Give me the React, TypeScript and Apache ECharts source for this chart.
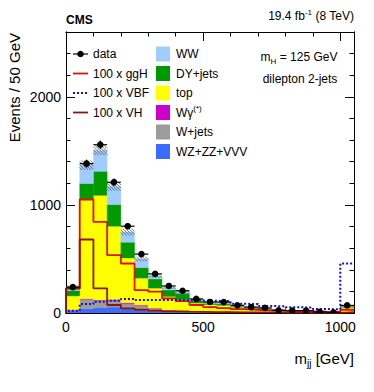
import React, { useEffect, useRef } from "react";
import * as echarts from "echarts";

const FONT = "'Liberation Sans', Arial, Helvetica, sans-serif";

// bin lower edges (GeV), bin width 50 GeV; last bin includes overflow
const binLow = [0, 50, 100, 150, 200, 250, 300, 350, 400, 450, 500, 550, 600, 650, 700, 750, 800, 850, 900, 950, 1000];
const binWidth = 50;

const dataCounts = [240, 1382, 1557, 1210, 803, 545, 362, 250, 206, 130, 102, 101, 71, 55, 47, 25, 22, 22, 10, 5, 70];

// stacked backgrounds, bottom to top
const wzZzVvv = [20, 40, 50, 55, 40, 25, 20, 10, 10, 8, 5, 5, 4, 3, 3, 2, 2, 2, 1, 1, 4];
const wJets = [5, 86, 65, 60, 45, 40, 20, 15, 10, 7, 5, 5, 3, 3, 2, 2, 1, 1, 1, 1, 3];
const wGamma = [3, 5, 5, 10, 10, 8, 5, 3, 3, 2, 2, 1, 1, 1, 1, 0, 0, 0, 0, 0, 1];
const topBkg = [130, 920, 969, 678, 415, 250, 185, 125, 100, 75, 65, 60, 45, 35, 28, 18, 15, 13, 9, 7, 45];
const dyJets = [50, 147, 222, 200, 145, 97, 85, 60, 60, 20, 13, 14, 10, 7, 6, 4, 4, 3, 2, 2, 10];
const wwBkg = [35, 170, 194, 169, 95, 80, 25, 22, 17, 13, 10, 10, 7, 6, 5, 4, 3, 3, 2, 1, 7];
const bkgUnc = [12, 45, 45, 40, 32, 22, 16, 12, 10, 8, 6, 6, 5, 4, 4, 3, 3, 3, 2, 2, 6];

// signals x 100
const ggH100 = [230, 1050, 843, 535, 458, 212, 197, 135, 110, 74, 55, 45, 35, 30, 25, 20, 18, 15, 12, 10, 30];
const vbf100 = [20, 83, 104, 113, 130, 120, 120, 120, 118, 115, 113, 110, 85, 83, 65, 62, 53, 50, 38, 34, 458];
const vh100 = [225, 680, 228, 74, 43, 30, 22, 15, 12, 10, 8, 7, 6, 5, 5, 4, 4, 3, 3, 2, 8];

const stackComps = [wzZzVvv, wJets, wGamma, topBkg, dyJets, wwBkg];
const stackNames = ["WZ+ZZ+VVV", "W+jets", "Wγ(*)", "top", "DY+jets", "WW"];
const stackColors = ["#3c6cff", "#9c9c9c", "#cc00cc", "#ffff00", "#009a00", "#9fcdff"];

const COL_GGH = "#e01010";
const COL_VBF = "#1010e0";
const COL_VH = "#8a1616";

function stepData(vals: number[]) {
  const pts: number[][] = [[binLow[0], 0]];
  vals.forEach((v, i) => pts.push([binLow[i], v]));
  pts.push([binLow[binLow.length - 1] + binWidth, vals[vals.length - 1]]);
  return pts;
}

export default function App() {
  const ref = useRef<HTMLDivElement>(null);
  useEffect(() => {
    if (!ref.current) return;
    const chart = echarts.init(ref.current, undefined, { renderer: "svg" });

    const totals = binLow.map((_, i) => stackComps.reduce((s, c) => s + c[i], 0));

    const stackSeries = stackComps.map((comp, k) => {
      const data = binLow.map((x, i) => {
        let base = 0;
        for (let j = 0; j < k; j++) base += stackComps[j][i];
        return [x, x + binWidth, base, base + comp[i]];
      });
      return {
        type: "custom",
        name: stackNames[k],
        clip: true,
        data,
        encode: { x: [0, 1], y: [2, 3] },
        renderItem: (params: any, api: any) => {
          const p0 = api.coord([api.value(0), api.value(3)]);
          const p1 = api.coord([api.value(1), api.value(2)]);
          return {
            type: "rect",
            shape: { x: p0[0], y: p0[1], width: p1[0] - p0[0], height: p1[1] - p0[1] },
            style: { fill: stackColors[k], stroke: stackColors[k], lineWidth: 0.4 },
          };
        },
      };
    });

    const hatchSeries = {
      type: "custom",
      name: "unc",
      clip: true,
      data: binLow.map((x, i) => [x, x + binWidth, totals[i] - bkgUnc[i], totals[i] + bkgUnc[i]]),
      encode: { x: [0, 1], y: [2, 3] },
      renderItem: (params: any, api: any) => {
        const a = api.coord([api.value(0), api.value(3)]);
        const b = api.coord([api.value(1), api.value(2)]);
        const L = a[0], T = a[1], R = b[0], B = b[1];
        const children: any[] = [];
        const step = 3;
        for (let c = T - R; c <= B - L; c += step) {
          const xs = Math.max(L, T - c);
          const xe = Math.min(R, B - c);
          if (xe > xs) {
            children.push({
              type: "line",
              shape: { x1: xs, y1: xs + c, x2: xe, y2: xe + c },
              style: { stroke: "#555555", lineWidth: 0.8 },
            });
          }
        }
        return { type: "group", children };
      },
    };

    const lineSeries = (name: string, vals: number[], color: string, dashed: boolean, width: number) => ({
      type: "line",
      name,
      step: "end",
      symbol: "none",
      data: stepData(vals),
      lineStyle: { color, width, type: dashed ? [2, 2] : "solid" },
      z: 5,
    });

    const dataSeries = {
      type: "custom",
      name: "data",
      clip: true,
      z: 10,
      data: binLow.map((x, i) => [x + binWidth / 2, dataCounts[i], x, x + binWidth, Math.sqrt(dataCounts[i])]),
      encode: { x: 0, y: 1 },
      renderItem: (params: any, api: any) => {
        const n = api.value(1);
        const e = api.value(4);
        const c = api.coord([api.value(0), n]);
        const l = api.coord([api.value(2), n]);
        const r = api.coord([api.value(3), n]);
        const up = api.coord([api.value(0), n + e]);
        const dn = api.coord([api.value(0), n - e]);
        return {
          type: "group",
          children: [
            { type: "line", shape: { x1: l[0], y1: l[1], x2: r[0], y2: r[1] }, style: { stroke: "#000", lineWidth: 1.2 } },
            { type: "line", shape: { x1: up[0], y1: up[1], x2: dn[0], y2: dn[1] }, style: { stroke: "#000", lineWidth: 1.2 } },
            { type: "circle", shape: { cx: c[0], cy: c[1], r: 3.3 }, style: { fill: "#000" } },
          ],
        };
      },
    };

    const axisCommon = {
      type: "value",
      splitLine: { show: false },
      axisLine: { show: true, onZero: false, lineStyle: { color: "#000", width: 1 } },
    };

    const xMajor = (pos: string, labels: boolean) => ({
      ...axisCommon,
      position: pos,
      min: 0,
      max: 1050,
      interval: 500,
      axisTick: { show: true, inside: true, length: 9, lineStyle: { color: "#000" } },
      axisLabel: {
        show: labels,
        fontFamily: FONT,
        fontSize: 14,
        color: "#000",
        margin: 7,
        formatter: (v: number) => (v % 500 === 0 ? String(v) : ""),
      },
    });
    const xMinor = (pos: string) => ({
      ...axisCommon,
      position: pos,
      min: 0,
      max: 1050,
      interval: 100,
      axisTick: { show: true, inside: true, length: 4.5, lineStyle: { color: "#000" } },
      axisLabel: { show: false },
    });
    const yMajor = (pos: string, labels: boolean) => ({
      ...axisCommon,
      position: pos,
      min: 0,
      max: 2600,
      interval: 1000,
      axisTick: { show: true, inside: true, length: 9, lineStyle: { color: "#000" } },
      axisLabel: {
        show: labels,
        fontFamily: FONT,
        fontSize: 14,
        color: "#000",
        margin: 5,
        formatter: (v: number) => (v % 1000 === 0 ? String(v) : ""),
      },
    });
    const yMinor = (pos: string) => ({
      ...axisCommon,
      position: pos,
      min: 0,
      max: 2600,
      interval: 200,
      axisTick: { show: true, inside: true, length: 4.5, lineStyle: { color: "#000" } },
      axisLabel: { show: false },
    });

    const textStyle = (extra: any) => ({ fontFamily: FONT, fill: "#000", ...extra });

    const leftRows = [54, 73.5, 93, 112.5];
    const rightRows = [54, 73.5, 93, 112.5, 132, 151.5];
    const legendGraphics: any[] = [];
    // data
    legendGraphics.push({ type: "line", shape: { x1: 73, y1: leftRows[0], x2: 88, y2: leftRows[0] }, style: { stroke: "#000", lineWidth: 1.2 } });
    legendGraphics.push({ type: "circle", shape: { cx: 80.5, cy: leftRows[0], r: 3.3 }, style: { fill: "#000" } });
    const leftLabels = ["data", "100 x ggH", "100 x VBF", "100 x VH"];
    const leftLines = [
      null,
      { stroke: COL_GGH, lineWidth: 1.8 },
      { stroke: COL_VBF, lineWidth: 2, lineDash: [2, 2] },
      { stroke: COL_VH, lineWidth: 1.8 },
    ];
    leftLabels.forEach((t, i) => {
      if (leftLines[i]) {
        legendGraphics.push({ type: "line", shape: { x1: 73, y1: leftRows[i], x2: 88, y2: leftRows[i] }, style: leftLines[i] });
      }
      legendGraphics.push({
        type: "text",
        x: 93,
        y: leftRows[i],
        style: textStyle({ text: t, fontSize: 12, verticalAlign: "middle", align: "left" }),
      });
    });
    const rightOrder = [5, 4, 3, 2, 1, 0];
    rightOrder.forEach((k, i) => {
      legendGraphics.push({
        type: "rect",
        shape: { x: 156, y: rightRows[i] - 7.5, width: 14, height: 15 },
        style: { fill: stackColors[k] },
      });
      if (k === 2) {
        legendGraphics.push({
          type: "text",
          x: 176,
          y: rightRows[i],
          style: textStyle({
            text: "{a|Wγ}{s|(*)}",
            verticalAlign: "middle",
            align: "left",
            rich: {
              a: { fontFamily: FONT, fontSize: 12, lineHeight: 16, fill: "#000" },
              s: { fontFamily: FONT, fontSize: 8, lineHeight: 16, verticalAlign: "top", fill: "#000" },
            },
          }),
        });
      } else {
        legendGraphics.push({
          type: "text",
          x: 176,
          y: rightRows[i],
          style: textStyle({ text: stackNames[k], fontSize: 12, verticalAlign: "middle", align: "left" }),
        });
      }
    });

    const graphics: any[] = [
      ...legendGraphics,
      {
        type: "text",
        x: 299,
        y: 57,
        style: textStyle({
          text: "{a|m}{b|H}{a| = 125 GeV}",
          align: "center",
          verticalAlign: "middle",
          rich: {
            a: { fontFamily: FONT, fontSize: 12, lineHeight: 17, fill: "#000" },
            b: { fontFamily: FONT, fontSize: 8, lineHeight: 17, verticalAlign: "bottom", fill: "#000" },
          },
        }),
      },
      {
        type: "text",
        x: 300,
        y: 79,
        style: textStyle({ text: "dilepton 2-jets", fontSize: 12, align: "center", verticalAlign: "middle" }),
      },
      {
        type: "text",
        x: 66,
        y: 20,
        style: textStyle({ text: "CMS", fontSize: 12, fontWeight: "bold", align: "left", verticalAlign: "middle" }),
      },
      {
        type: "text",
        x: 354,
        y: 16,
        style: textStyle({
          text: "{a|19.4 fb}{s|-1}{a| (8 TeV)}",
          align: "right",
          verticalAlign: "middle",
          rich: {
            a: { fontFamily: FONT, fontSize: 12, lineHeight: 16, fill: "#000" },
            s: { fontFamily: FONT, fontSize: 8, lineHeight: 16, verticalAlign: "top", fill: "#000" },
          },
        }),
      },
      {
        type: "text",
        x: 14,
        y: 33,
        rotation: Math.PI / 2,
        style: textStyle({ text: "Events / 50 GeV", fontSize: 15, align: "right", verticalAlign: "middle" }),
      },
      {
        type: "text",
        x: 354,
        y: 358,
        style: textStyle({
          text: "{a|m}{b|jj}{a| [GeV]}",
          align: "right",
          verticalAlign: "middle",
          rich: {
            a: { fontFamily: FONT, fontSize: 15, lineHeight: 20, fill: "#000" },
            b: { fontFamily: FONT, fontSize: 10, lineHeight: 20, verticalAlign: "bottom", fill: "#000" },
          },
        }),
      },
    ];

    chart.setOption({
      animation: false,
      backgroundColor: "#ffffff",
      grid: { left: 66, right: 20, top: 32, bottom: 79, containLabel: false },
      xAxis: [xMajor("bottom", true), xMinor("bottom"), xMajor("top", false), xMinor("top")],
      yAxis: [yMajor("left", true), yMinor("left"), yMajor("right", false), yMinor("right")],
      series: [
        ...stackSeries,
        hatchSeries,
        lineSeries("100 x ggH", ggH100, COL_GGH, false, 1.8),
        lineSeries("100 x VBF", vbf100, COL_VBF, true, 2),
        lineSeries("100 x VH", vh100, COL_VH, false, 1.8),
        dataSeries,
      ],
      graphic: graphics,
    });
    return () => chart.dispose();
  }, []);
  return <div ref={ref} style={{ width: 374, height: 392, position: "absolute", left: 0, top: 0 }} />;
}
